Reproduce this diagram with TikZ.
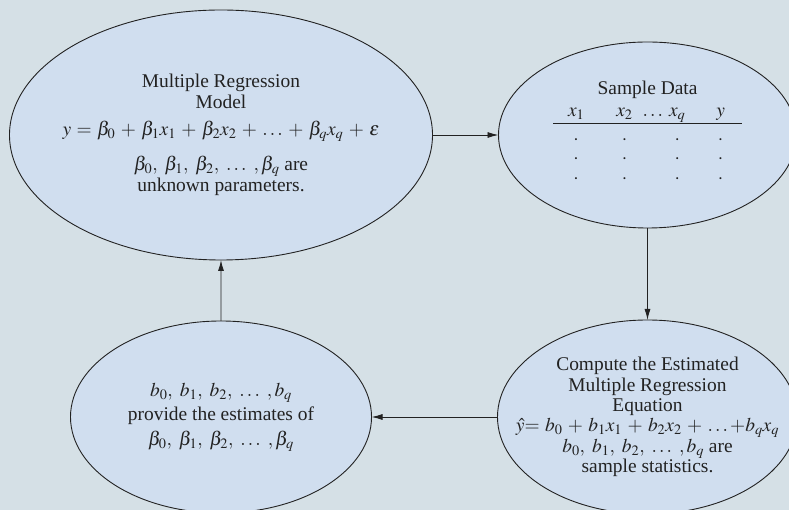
\documentclass[tikz,border=0pt]{standalone}
\usepackage{mathptmx}
\usepackage[no-math]{fontspec}
\setmainfont{Liberation Serif}
\usepackage{tikz}
\usetikzlibrary{arrows.meta,positioning,shapes.geometric}
\definecolor{PageGray}{HTML}{D5E0E6}
\definecolor{BlobBlue}{HTML}{D0DEEF}
\definecolor{InkGray}{HTML}{222222}
\medmuskip=5mu plus 2mu minus 4mu
\thickmuskip=5mu plus 5mu

\begin{document}
\begin{tikzpicture}[x=1bp,y=1bp,font=\fontsize{19.5}{21.5}\selectfont,
blob/.style={ellipse,draw=InkGray,fill=BlobBlue,line width=0.9bp,outer sep=0pt,inner xsep=0pt,inner ysep=0pt,align=center,text=InkGray},
arr/.style={draw=InkGray,line width=0.9bp,-{Latex[length=11bp,width=6bp]}}]
\fill[PageGray] (0,0) rectangle (789,510);
\useasboundingbox (0,0) rectangle (789,510);
\node[blob,minimum width=423bp,minimum height=250bp,inner xsep=-20bp] (model) at (221,375)
  {Multiple Regression\\Model\\[5pt]$y=\beta_0+\beta_1x_1+\beta_2x_2+\ldots+\beta_qx_q+\varepsilon$\\[14pt]
   $\beta_0,\ \beta_1,\ \beta_2,\ \ldots\ ,\beta_q$ are\\unknown parameters.};
\node[blob,minimum width=298bp,minimum height=186bp,right=66bp of model] (data)
  {Sample Data\\[3pt]
   \def\arraystretch{0.9}%
   \begin{tabular}{@{\hspace{15bp}}c@{\hspace{32bp}}c@{\hspace{10bp}}c@{\hspace{6bp}}c@{\hspace{31bp}}c@{\hspace{17bp}}}
   $x_1$ & $x_2$ & $\ldots$ & $x_q$ & $y$\\[1pt] \hline
   \rule{0pt}{21bp}$\cdot$ & $\cdot$ & & $\cdot$ & $\cdot$\\
   $\cdot$ & $\cdot$ & & $\cdot$ & $\cdot$\\
   $\cdot$ & $\cdot$ & & $\cdot$ & $\cdot$
   \end{tabular}};
\node[blob,minimum width=300bp,minimum height=194bp,inner xsep=-30bp,below=92bp of data,
      font=\fontsize{19.5}{20.5}\selectfont] (eqn)
  {Compute the Estimated\\Multiple Regression\\Equation\\
   $\hat{y}{=}\;b_0+b_1x_1+b_2x_2+\ldots{+}b_qx_q$\\
   $b_0,\ b_1,\ b_2,\ \ldots\ ,b_q$ are\\sample statistics.};
\node[blob,minimum width=301bp,minimum height=192bp,left=126bp of eqn] (est)
  {$b_0,\ b_1,\ b_2,\ \ldots\ ,b_q$\\[3pt]provide the estimates of\\[3pt]$\beta_0,\ \beta_1,\ \beta_2,\ \ldots\ ,\beta_q$};
\draw[arr] (model)--(data);
\draw[arr] (data)--(eqn);
\draw[arr] (eqn)--(est);
\draw[arr] (est)--(model);
\end{tikzpicture}
\end{document}
